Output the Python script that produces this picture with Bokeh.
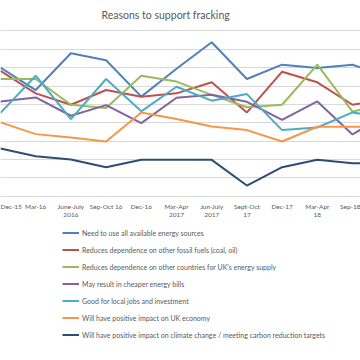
from bokeh.plotting import figure
from bokeh.models import Range1d, FixedTicker, Legend, LegendItem
from bokeh.embed import file_html
from bokeh.resources import INLINE

periods = ["Dec-15", "Mar-16", "June-July\n2016", "Sep-Oct 16", "Dec-16",
           "Mar-Apr\n2017", "Jun-July\n2017", "Sept-Oct\n17", "Dec-17",
           "Mar-Apr\n18", "Sep-18", "Dec-18"]

need_all_sources = [35.0, 28.9, 38.9, 37.0, 27.1, 34.7, 41.9, 31.9, 35.8, 34.9, 35.8, 32.5]
less_fossil_fuels = [34.1, 28.0, 24.9, 28.9, 27.1, 28.0, 31.0, 22.8, 33.9, 31.0, 24.9, 26.5]
less_foreign_supply = [31.9, 31.9, 24.9, 24.0, 32.8, 31.2, 27.6, 24.2, 24.9, 35.8, 23.0, 25.4]
cheaper_bills = [25.8, 26.9, 21.9, 24.8, 19.9, 26.8, 27.6, 25.7, 20.8, 25.8, 16.8, 22.5]
local_jobs = [22.7, 32.8, 21.0, 31.9, 23.1, 29.8, 26.0, 27.8, 18.0, 18.7, 22.8, 21.3]
uk_economy = [20.1, 16.9, 16.0, 14.9, 22.8, 21.0, 19.0, 18.0, 14.9, 18.9, 18.9, 18.9]
climate_targets = [13.0, 10.9, 10.0, 7.9, 9.9, 9.9, 9.9, 2.9, 7.9, 9.9, 9.0, 9.0]

grid_values = [5, 10, 15, 20, 25, 30, 35, 40, 45]

series_names = [
    "Need to use all available energy sources",
    "Reduces dependence on other fossil fuels (coal, oil)",
    "Reduces dependence on other countries for UK\u2019s energy supply",
    "May result in cheaper energy bills",
    "Good for local jobs and investment",
    "Will have positive impact on UK economy",
    "Will have positive impact on climate change / meeting carbon reduction targets",
]
series_values = [need_all_sources, less_fossil_fuels, less_foreign_supply,
                 cheaper_bills, local_jobs, uk_economy, climate_targets]
colors = ["#4F81BD", "#C0504D", "#9BBB59", "#8064A2", "#4BACC6", "#F79646", "#2C4D75"]

xs = list(range(len(periods)))
FONT = "Lato"
TXT = "#595959"
PX = 35.2          # pixels per period
PY = 3.6733        # pixels per unit
Y0 = 195.7         # pixel row of the zero line
TOP = 26

p = figure(width=360, height=360, output_backend="svg", toolbar_location=None,
           x_range=Range1d(0, 360 / PX),
           y_range=Range1d(-(360 - Y0) / PY, (Y0 - TOP) / PY),
           y_axis_location=None, min_border_left=0, min_border_right=0,
           min_border_top=TOP, min_border_bottom=0,
           title="Reasons to support fracking")
p.outline_line_color = None
p.background_fill_color = "white"
p.border_fill_color = "white"

p.title.align = "left"
p.title.offset = 101
p.title.vertical_align = "middle"
p.title.text_font = FONT
p.title.text_font_size = "10.5px"
p.title.text_font_style = "normal"
p.title.text_color = TXT
p.title.standoff = 10

items = []
for name, vals, c in zip(series_names, series_values, colors):
    r = p.line(xs, vals, line_color=c, line_width=2)
    items.append(LegendItem(label=name, renderers=[r]))

p.xgrid.visible = False
p.ygrid.ticker = FixedTicker(ticks=grid_values)
p.ygrid.grid_line_color = "#D9D9D9"
p.ygrid.grid_line_width = 1

xa = p.xaxis[0]
xa.fixed_location = 0
xa.ticker = FixedTicker(ticks=xs)
xa.major_label_overrides = {i: lab for i, lab in enumerate(periods)}
xa.axis_line_color = "#D9D9D9"
xa.major_tick_line_color = None
xa.minor_tick_line_color = None
xa.major_tick_out = 0
xa.major_tick_in = 0
xa.major_label_standoff = 7
xa.major_label_text_font = FONT
xa.major_label_text_font_size = "6.5px"
xa.major_label_text_line_height = 1.15
xa.major_label_text_color = TXT

lg = Legend(items=items, location=(62, 17))
lg.label_text_font = FONT
lg.label_text_font_size = "7px"
lg.label_text_color = TXT
lg.glyph_width = 17
lg.glyph_height = 17
lg.label_height = 17
lg.spacing = 0
lg.padding = 0
lg.margin = 0
lg.label_standoff = 3
lg.border_line_color = None
lg.background_fill_alpha = 0
p.add_layout(lg, "center")

open("out.html", "w").write(file_html(p, INLINE))
